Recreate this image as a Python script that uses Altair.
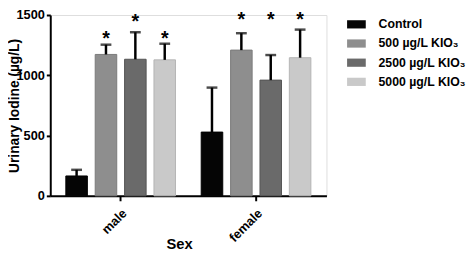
import altair as alt
import pandas as pd

sexes = ["male", "female"]
groups = ["Control", "500 µg/L KIO₃", "2500 µg/L KIO₃", "5000 µg/L KIO₃"]
means_male = [165, 1173, 1133, 1128]
errs_male = [51, 81, 224, 134]
means_female = [529, 1209, 960, 1146]
errs_female = [369, 140, 208, 233]
stars_male = ["", "*", "*", "*"]
stars_female = ["", "*", "*", "*"]
star_y_male = [0, 1345, 1490, 1345]
star_y_female = [0, 1502, 1502, 1505]
colors = ["#050505", "#8e8e8e", "#6a6a6a", "#c9c9c9"]
strokes = ["#000000", "#7a7a7a", "#555555", "#b5b5b5"]

rows = []
for s, means, errs, stars, sy in [("male", means_male, errs_male, stars_male, star_y_male),
                                  ("female", means_female, errs_female, stars_female, star_y_female)]:
    for g, m, e, st, y in zip(groups, means, errs, stars, sy):
        rows.append({"sex": s, "group": g, "mean": m, "top": m + e, "star": st, "star_y": y})
df = pd.DataFrame(rows)

FONT = "Liberation Sans"

x = alt.X("sex:N", sort=sexes,
          scale=alt.Scale(paddingInner=0.19, paddingOuter=0.115),
          axis=alt.Axis(title="Sex", labelAngle=-45, labelFont=FONT, labelFontWeight="bold",
                        labelFontSize=13, labelColor="black", labelPadding=6, titleFont=FONT,
                        titleFontWeight="bold", titleFontSize=15, titleColor="black",
                        domainColor="black", domainWidth=2, tickColor="black", tickWidth=2,
                        tickSize=5, titleX=131, titleY=49, titleBaseline="middle"))
xo = alt.XOffset("group:N", sort=groups,
                 scale=alt.Scale(paddingInner=0.267, paddingOuter=0))

bars = alt.Chart(df).mark_bar(strokeWidth=1).encode(
    x=x, xOffset=xo,
    y=alt.Y("mean:Q", scale=alt.Scale(domain=[0, 1500], nice=False),
            axis=alt.Axis(title="Urinary Iodine (µg/L)", values=[0, 500, 1000, 1500],
                          format="d", grid=False, labelFont=FONT, labelFontWeight="bold",
                          labelFontSize=13, labelColor="black", titleFont=FONT,
                          titleFontWeight="bold", titleFontSize=14, titleColor="black",
                          domainColor="black", domainWidth=2, tickColor="black",
                          tickWidth=2, tickSize=4, labelPadding=2,
                          titleX=-32, titleY=92, titleAngle=270, titleAlign="center",
                          titleBaseline="alphabetic")),
    color=alt.Color("group:N", sort=groups,
                    scale=alt.Scale(domain=groups, range=colors),
                    legend=alt.Legend(title=None, orient="none", legendX=302, legendY=0,
                                      symbolType="M-1,-0.44H1V0.44H-1Z", symbolSize=361,
                                      symbolStrokeWidth=0, labelFont=FONT,
                                      labelFontWeight="bold", labelFontSize=12.5,
                                      labelColor="black", labelOffset=13, rowPadding=3.5,
                                      symbolOpacity=1)),
    stroke=alt.Stroke("group:N", sort=groups,
                      scale=alt.Scale(domain=groups, range=strokes), legend=None),
)

err = alt.Chart(df).mark_rule(color="black", strokeWidth=2.5).encode(
    x=x, xOffset=xo, y="mean:Q", y2="top:Q")

cap = alt.Chart(df).mark_tick(color="black", thickness=2.5, size=11, orient="horizontal").encode(
    x=x, xOffset=xo, y="top:Q")

star = alt.Chart(df).mark_text(font=FONT, fontWeight="bold", fontSize=20, dy=11.5,
                               baseline="alphabetic", color="black").encode(
    x=x, xOffset=xo, y="star_y:Q", text="star:N")

chart = alt.layer(bars, err, cap, star).properties(
    width=281, height=184,
    autosize=alt.AutoSizeParams(type="none"),
    padding={"left": 43, "top": 5, "right": 143, "bottom": 56},
).configure_view(stroke=None).configure(background="white")

chart.save("out.html", embed_options={"renderer": "svg", "actions": False})
